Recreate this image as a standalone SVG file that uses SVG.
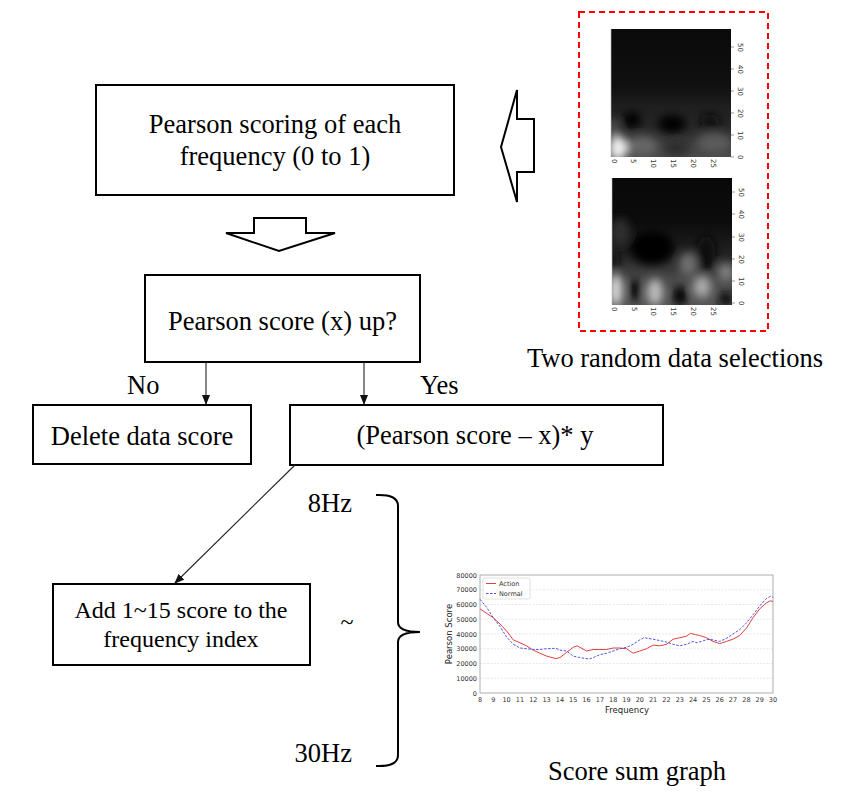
<svg xmlns="http://www.w3.org/2000/svg" width="857" height="799" viewBox="0 0 857 799">
<style>
.box{fill:#fff;stroke:#000;stroke-width:2}
.t{font-family:"Liberation Serif","Times New Roman",serif;font-size:26.5px;fill:#000}
.ts{font-family:"Liberation Serif","Times New Roman",serif;font-size:24px;fill:#000}
.conn{stroke:#222;stroke-width:1.1;fill:none}
.blk{fill:#fff;stroke:#000;stroke-width:2;stroke-linejoin:miter}
.hm{font-family:"DejaVu Sans",sans-serif;font-size:7px;fill:#333}
.ax{font-family:"DejaVu Sans",sans-serif;font-size:6.5px;fill:#333}
.axl{font-family:"DejaVu Sans",sans-serif;font-size:8.5px;fill:#222}
.grid{stroke:#ddd;stroke-width:0.7;stroke-dasharray:2,1.5}
</style>
<defs>
<marker id="ah" markerWidth="10" markerHeight="8" refX="9" refY="4" orient="auto" markerUnits="userSpaceOnUse">
<path d="M0,0 L10,4 L0,8 Z" fill="#111"/>
</marker>
<filter id="bl" x="-20%" y="-20%" width="140%" height="140%"><feGaussianBlur stdDeviation="4.5"/></filter>
<linearGradient id="g1" x1="0" y1="0" x2="0" y2="1">
<stop offset="0" stop-color="#0a0a0a"/>
<stop offset="0.45" stop-color="#101010"/>
<stop offset="0.6" stop-color="#1e1e1e"/>
<stop offset="0.75" stop-color="#262626"/>
<stop offset="1" stop-color="#4a4a4a"/>
</linearGradient>
<linearGradient id="g2" x1="0" y1="0" x2="0" y2="1">
<stop offset="0" stop-color="#080808"/>
<stop offset="0.35" stop-color="#0c0c0c"/>
<stop offset="0.6" stop-color="#222"/>
<stop offset="0.8" stop-color="#4a4a4a"/>
<stop offset="1" stop-color="#555"/>
</linearGradient>
<clipPath id="c1"><rect x="611" y="29" width="120" height="128"/></clipPath>
<clipPath id="c2"><rect x="612" y="178" width="120" height="127"/></clipPath>
</defs>

<g id="node-pearson-scoring">
<rect class="box" x="96" y="85" width="358" height="110"/>
<text class="t" x="275" y="133" text-anchor="middle">Pearson scoring of each</text>
<text class="t" x="275" y="165" text-anchor="middle">frequency (0 to 1)</text>
</g>

<g id="node-left-arrow">
<polygon class="blk" points="501,147 517,90 517,119 534,119 534,172 517,172 517,202"/>
</g>

<g id="node-down-arrow">
<polygon class="blk" points="254,218 306,218 306,233 335,233 279,251 226,233 254,233"/>
</g>

<g id="node-pearson-up">
<rect class="box" x="145" y="275" width="275" height="87"/>
<text class="t" x="282.5" y="330" text-anchor="middle">Pearson score (x) up?</text>
</g>

<g id="node-delete">
<rect class="box" x="33" y="405" width="218" height="59"/>
<text class="t" x="142" y="445" text-anchor="middle">Delete data score</text>
</g>

<g id="node-formula">
<rect class="box" x="290" y="405" width="373" height="60"/>
<text class="t" x="475" y="444" text-anchor="middle">(Pearson score – x)* y</text>
</g>

<g id="node-add">
<rect class="box" x="53" y="584" width="257" height="81"/>
<text class="ts" x="181" y="618" text-anchor="middle">Add 1~15 score to the</text>
<text class="ts" x="181" y="647" text-anchor="middle">frequency index</text>
</g>

<g id="connectors">
<line class="conn" x1="206" y1="362" x2="206" y2="404" marker-end="url(#ah)"/>
<line class="conn" x1="364" y1="362" x2="364" y2="404" marker-end="url(#ah)"/>
<line class="conn" x1="295" y1="465" x2="175" y2="583" marker-end="url(#ah)"/>
<text class="t" x="127" y="394">No</text>
<text class="t" x="420" y="394">Yes</text>
</g>

<g id="node-freq-range">
<text class="t" x="352" y="512" text-anchor="end">8Hz</text>
<text class="t" x="352" y="762" text-anchor="end">30Hz</text>
<text class="ts" x="347" y="630" text-anchor="middle">~</text>
<path d="M376,495 Q398,494 398,506 L398,622 Q398,632 420,632 Q398,632 398,642 L398,755 Q398,767 376,766" fill="none" stroke="#000" stroke-width="2"/>
</g>

<g id="node-data-selections">
<rect x="579" y="12" width="189" height="319" fill="none" stroke="#f00" stroke-width="2" stroke-dasharray="6,4"/>
<g clip-path="url(#c1)">
<rect x="611" y="29" width="120" height="128" fill="url(#g1)"/>
<g filter="url(#bl)">
<ellipse cx="632" cy="120" rx="9" ry="8" fill="#050505"/>
<ellipse cx="672" cy="124" rx="14" ry="9" fill="#050505"/>
<ellipse cx="710" cy="121" rx="10" ry="7" fill="#080808"/>
<ellipse cx="642" cy="146" rx="16" ry="10" fill="#666"/>
<ellipse cx="676" cy="148" rx="12" ry="8" fill="#2e2e2e"/>
<ellipse cx="714" cy="143" rx="18" ry="10" fill="#5a5a5a"/>
<ellipse cx="614" cy="128" rx="5" ry="9" fill="#555"/>
<ellipse cx="618" cy="148" rx="9" ry="12" fill="#f0f0f0"/>
</g>
</g>
<g clip-path="url(#c2)">
<rect x="612" y="178" width="120" height="127" fill="url(#g2)"/>
<g filter="url(#bl)">
<ellipse cx="620" cy="232" rx="10" ry="14" fill="#2e2e2e"/>
<ellipse cx="652" cy="248" rx="22" ry="17" fill="#050505"/>
<ellipse cx="706" cy="254" rx="10" ry="18" fill="#080808"/>
<ellipse cx="614" cy="260" rx="5" ry="10" fill="#111"/>
<ellipse cx="688" cy="264" rx="9" ry="12" fill="#6e6e6e"/>
<ellipse cx="726" cy="272" rx="8" ry="9" fill="#808080"/>
<ellipse cx="616" cy="290" rx="6" ry="16" fill="#e0e0e0"/>
<ellipse cx="655" cy="292" rx="8" ry="13" fill="#bcbcbc"/>
<ellipse cx="702" cy="287" rx="9" ry="11" fill="#a8a8a8"/>
<ellipse cx="635" cy="290" rx="5" ry="11" fill="#000"/>
<ellipse cx="680" cy="296" rx="7" ry="10" fill="#000"/>
<ellipse cx="726" cy="299" rx="8" ry="8" fill="#111"/>
</g>
</g>
<g stroke="#555" stroke-width="0.6">
<line x1="611" y1="29" x2="611" y2="157" stroke="#bbb"/>
<line x1="612" y1="178" x2="612" y2="305" stroke="#bbb"/>
<line x1="731" y1="157" x2="734" y2="157"/>
<line x1="731" y1="135" x2="734" y2="135"/>
<line x1="731" y1="113" x2="734" y2="113"/>
<line x1="731" y1="91" x2="734" y2="91"/>
<line x1="731" y1="69" x2="734" y2="69"/>
<line x1="731" y1="47" x2="734" y2="47"/>
<line x1="732" y1="303" x2="735" y2="303"/>
<line x1="732" y1="281" x2="735" y2="281"/>
<line x1="732" y1="259" x2="735" y2="259"/>
<line x1="732" y1="237" x2="735" y2="237"/>
<line x1="732" y1="214" x2="735" y2="214"/>
<line x1="732" y1="192" x2="735" y2="192"/>
</g>
<g class="hm">
<text transform="translate(738,155) rotate(90)">0</text>
<text transform="translate(738,131) rotate(90)">10</text>
<text transform="translate(738,109) rotate(90)">20</text>
<text transform="translate(738,87) rotate(90)">30</text>
<text transform="translate(738,65) rotate(90)">40</text>
<text transform="translate(738,43) rotate(90)">50</text>
<text transform="translate(612,159) rotate(90)">0</text>
<text transform="translate(631,159) rotate(90)">5</text>
<text transform="translate(651,159) rotate(90)">10</text>
<text transform="translate(671,159) rotate(90)">15</text>
<text transform="translate(691,159) rotate(90)">20</text>
<text transform="translate(711,159) rotate(90)">25</text>
<text transform="translate(739,301) rotate(90)">0</text>
<text transform="translate(739,277) rotate(90)">10</text>
<text transform="translate(739,255) rotate(90)">20</text>
<text transform="translate(739,233) rotate(90)">30</text>
<text transform="translate(739,210) rotate(90)">40</text>
<text transform="translate(739,188) rotate(90)">50</text>
<text transform="translate(612,307) rotate(90)">0</text>
<text transform="translate(632,307) rotate(90)">5</text>
<text transform="translate(651,307) rotate(90)">10</text>
<text transform="translate(671,307) rotate(90)">15</text>
<text transform="translate(691,307) rotate(90)">20</text>
<text transform="translate(711,307) rotate(90)">25</text>
</g>
<text class="t" x="675" y="367" text-anchor="middle">Two random data selections</text>
</g>

<g id="node-score-graph">
<g>
<line class="grid" x1="480" y1="678.25" x2="773" y2="678.25"/>
<line class="grid" x1="480" y1="663.5" x2="773" y2="663.5"/>
<line class="grid" x1="480" y1="648.75" x2="773" y2="648.75"/>
<line class="grid" x1="480" y1="634" x2="773" y2="634"/>
<line class="grid" x1="480" y1="619.25" x2="773" y2="619.25"/>
<line class="grid" x1="480" y1="604.5" x2="773" y2="604.5"/>
<line class="grid" x1="480" y1="589.75" x2="773" y2="589.75"/>
</g>
<rect x="480" y="575" width="293" height="118" fill="none" stroke="#999" stroke-width="0.8"/>
<polyline fill="none" stroke="#e04040" stroke-width="1" points="480,608.9 486.7,613.3 493.3,617.8 500,624 506.6,631 513.3,639.9 520,642.8 526.6,645.8 533.3,650.2 539.9,653.2 546.6,656.1 555.9,658.6 559.9,657.6 566.6,652.4 573.2,647.3 577.2,645.8 586.5,651 593.2,649.5 599.9,649.5 606.5,649.5 613.2,648 619.8,648 626.5,648.75 633.2,653.2 639.8,651 646.5,648.75 653.1,645.1 659.8,645.8 666.5,644.3 673.1,639.2 679.8,637.7 686.4,636.2 690.4,633.3 695.7,634.7 699.7,635.5 706.4,637.7 713,641.4 719.7,643.6 726.4,641.4 733,639.2 739.7,635.5 746.4,628.1 753,617.8 759.7,608.9 766.3,603 770.3,600.8 773,601.5"/>
<polyline fill="none" stroke="#4040e0" stroke-width="0.9" stroke-dasharray="2.5,1.5" points="480,599.3 486.7,607.4 493.3,617.8 500,626.6 506.6,637 513.3,644.3 520,648 526.6,648.75 533.3,649.5 539.9,649.5 546.6,648.75 555.9,648.3 559.9,650.2 566.6,651 573.2,656.1 579.9,657.6 589.2,659.1 593.2,657.6 599.9,654.65 606.5,653.2 613.2,651 619.8,648.75 626.5,647.3 633.2,644.3 639.8,639.9 643.8,637.7 653.1,639.2 659.8,640.6 666.5,642.1 673.1,644.3 679.8,645.8 686.4,644.3 693.1,641.4 697.1,642.8 703.7,640.6 709,639.2 713,639.9 719.7,641.4 726.4,638.4 733,634 739.7,629.6 746.4,622.9 753,614.8 759.7,606 766.3,598.6 770.3,596.4 773,597.1"/>
<rect x="483" y="578" width="47" height="21" rx="2" fill="#fff" fill-opacity="0.85" stroke="#ccc" stroke-width="0.6"/>
<line x1="486" y1="583.5" x2="496" y2="583.5" stroke="#e04040" stroke-width="1"/>
<line x1="486" y1="593.5" x2="496" y2="593.5" stroke="#4040e0" stroke-width="0.9" stroke-dasharray="2.5,1.5"/>
<text class="ax" x="499" y="586">Action</text>
<text class="ax" x="499" y="596">Normal</text>
<g class="ax" text-anchor="end">
<text x="477" y="695.5">0</text>
<text x="477" y="680.75">10000</text>
<text x="477" y="666">20000</text>
<text x="477" y="651.25">30000</text>
<text x="477" y="636.5">40000</text>
<text x="477" y="621.75">50000</text>
<text x="477" y="607">60000</text>
<text x="477" y="592.25">70000</text>
<text x="477" y="577.5">80000</text>
</g>
<g class="ax" text-anchor="middle">
<text x="480" y="702">8</text>
<text x="493.3" y="702">9</text>
<text x="506.6" y="702">10</text>
<text x="519.95" y="702">11</text>
<text x="533.3" y="702">12</text>
<text x="546.6" y="702">13</text>
<text x="559.9" y="702">14</text>
<text x="573.2" y="702">15</text>
<text x="586.5" y="702">16</text>
<text x="599.9" y="702">17</text>
<text x="613.2" y="702">18</text>
<text x="626.5" y="702">19</text>
<text x="639.8" y="702">20</text>
<text x="653.1" y="702">21</text>
<text x="666.5" y="702">22</text>
<text x="679.8" y="702">23</text>
<text x="693.1" y="702">24</text>
<text x="706.4" y="702">25</text>
<text x="719.7" y="702">26</text>
<text x="733" y="702">27</text>
<text x="746.4" y="702">28</text>
<text x="759.7" y="702">29</text>
<text x="773" y="702">30</text>
</g>
<text class="axl" x="627" y="713" text-anchor="middle">Frequency</text>
<text class="axl" transform="translate(452,634) rotate(-90)" text-anchor="middle">Pearson Score</text>
<text class="t" x="637" y="780" text-anchor="middle">Score sum graph</text>
</g>
</svg>
